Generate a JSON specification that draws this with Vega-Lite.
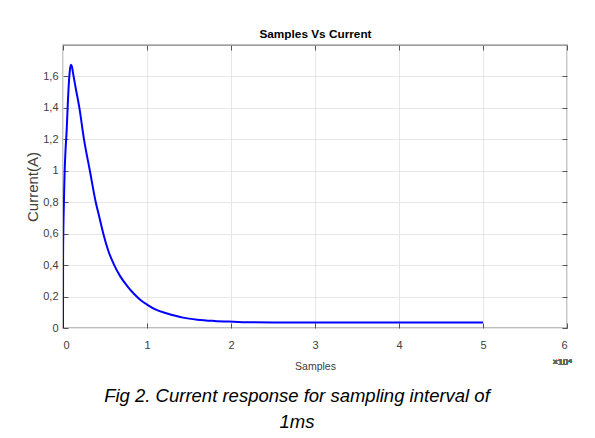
{
  "$schema": "https://vega.github.io/schema/vega-lite/v6.json",
  "width": 504,
  "height": 283,
  "autosize": {"type": "none"},
  "padding": {"left": 63, "top": 45, "right": 28, "bottom": 110},
  "background": "white",
  "config": {
    "view": {"stroke": "#7f7f7f", "strokeWidth": 1.3},
    "font": "Liberation Sans"
  },
  "title": {
    "text": ["Fig 2. Current response for sampling interval of", "1ms"],
    "orient": "bottom",
    "anchor": "middle",
    "font": "Liberation Sans",
    "fontSize": 18.5,
    "fontStyle": "italic",
    "fontWeight": "normal",
    "color": "#000000",
    "lineHeight": 26,
    "dx": -18,
    "offset": 15
  },
  "data": {
    "values": [
      {"sample": 0, "current": 0},
      {"sample": 10, "current": 0.45},
      {"sample": 50, "current": 0.65},
      {"sample": 100, "current": 0.78},
      {"sample": 150, "current": 0.9},
      {"sample": 200, "current": 1.0},
      {"sample": 300, "current": 1.13},
      {"sample": 440, "current": 1.26},
      {"sample": 550, "current": 1.4},
      {"sample": 700, "current": 1.56},
      {"sample": 820, "current": 1.64},
      {"sample": 950, "current": 1.675},
      {"sample": 1080, "current": 1.658},
      {"sample": 1200, "current": 1.62},
      {"sample": 1500, "current": 1.53},
      {"sample": 1950, "current": 1.4},
      {"sample": 2500, "current": 1.2},
      {"sample": 3200, "current": 1.0},
      {"sample": 3900, "current": 0.8},
      {"sample": 4350, "current": 0.7},
      {"sample": 4800, "current": 0.6},
      {"sample": 5400, "current": 0.49},
      {"sample": 6100, "current": 0.4},
      {"sample": 6800, "current": 0.33},
      {"sample": 7600, "current": 0.27},
      {"sample": 8500, "current": 0.215},
      {"sample": 9300, "current": 0.175},
      {"sample": 10100, "current": 0.146},
      {"sample": 11000, "current": 0.118},
      {"sample": 12300, "current": 0.094},
      {"sample": 13500, "current": 0.076},
      {"sample": 14300, "current": 0.066},
      {"sample": 16000, "current": 0.053},
      {"sample": 18000, "current": 0.045},
      {"sample": 20300, "current": 0.04},
      {"sample": 22500, "current": 0.036},
      {"sample": 25000, "current": 0.035},
      {"sample": 30000, "current": 0.035},
      {"sample": 40000, "current": 0.035},
      {"sample": 50000, "current": 0.035}
    ]
  },
  "layer": [
    {
      "mark": {"type": "line", "color": "#0000ff", "strokeWidth": 2, "interpolate": "monotone", "clip": true},
      "encoding": {
        "x": {
          "field": "sample", "type": "quantitative",
          "scale": {"domain": [0, 60000], "nice": false, "zero": true},
          "axis": {
            "orient": "bottom",
            "offset": -5,
            "values": [0, 10000, 20000, 30000, 40000, 50000, 60000],
            "labelExpr": "datum.value / 10000",
            "title": "Samples",
            "titleFont": "Liberation Sans",
            "titleFontSize": 10.5,
            "titleFontWeight": "normal",
            "titleColor": "#404040",
            "titlePadding": 11,
            "labelFont": "Liberation Sans",
            "labelFontSize": 11,
            "labelColor": "#404040",
            "labelPadding": 11,
            "tickSize": 5,
            "tickColor": "#555555",
            "domain": false,
            "grid": true,
            "gridColor": "#e6e6e6",
            "gridWidth": 1
          }
        },
        "y": {
          "field": "current", "type": "quantitative",
          "scale": {"domain": [0, 1.8], "nice": false},
          "axis": {
            "orient": "left",
            "offset": -5,
            "values": [0, 0.2, 0.4, 0.6, 0.8, 1, 1.2, 1.4, 1.6],
            "labelExpr": "replace(datum.value + '', '.', ',')",
            "title": "Current(A)",
            "titleFont": "Liberation Sans",
            "titleFontSize": 15,
            "titleFontWeight": "normal",
            "titleColor": "#404040",
            "titlePadding": 2,
            "labelFont": "Liberation Sans",
            "labelFontSize": 11,
            "labelColor": "#404040",
            "labelPadding": 5,
            "tickSize": 5,
            "tickColor": "#555555",
            "domain": false,
            "grid": true,
            "gridColor": "#e6e6e6",
            "gridWidth": 1
          }
        }
      }
    },
    {
      "mark": {"type": "line", "strokeOpacity": 0},
      "encoding": {
        "x": {
          "field": "sample", "type": "quantitative",
          "axis": {
            "orient": "top",
            "offset": -5,
            "values": [0, 10000, 20000, 30000, 40000, 50000, 60000],
            "labels": false,
            "title": "Samples Vs Current",
            "titleFont": "Liberation Sans",
            "titleFontSize": 11.8,
            "titleFontWeight": "bold",
            "titleColor": "#000000",
            "titlePadding": 5,
            "tickSize": 5,
            "tickColor": "#555555",
            "domain": false,
            "grid": false
          }
        },
        "y": {
          "field": "current", "type": "quantitative",
          "axis": {
            "orient": "right",
            "offset": -5,
            "values": [0, 0.2, 0.4, 0.6, 0.8, 1, 1.2, 1.4, 1.6],
            "labels": false,
            "title": null,
            "tickSize": 5,
            "tickColor": "#555555",
            "domain": false,
            "grid": false
          }
        }
      }
    },
    {
      "mark": {"type": "text", "text": "×10⁴", "align": "right", "baseline": "middle", "dx": 5, "dy": 34, "fontSize": 9, "color": "#666666", "font": "Liberation Sans"},
      "encoding": {
        "x": {"datum": 60000, "type": "quantitative", "axis": null},
        "y": {"datum": 0, "type": "quantitative", "axis": null}
      }
    }
  ],
  "resolve": {"axis": {"x": "independent", "y": "independent"}}
}
